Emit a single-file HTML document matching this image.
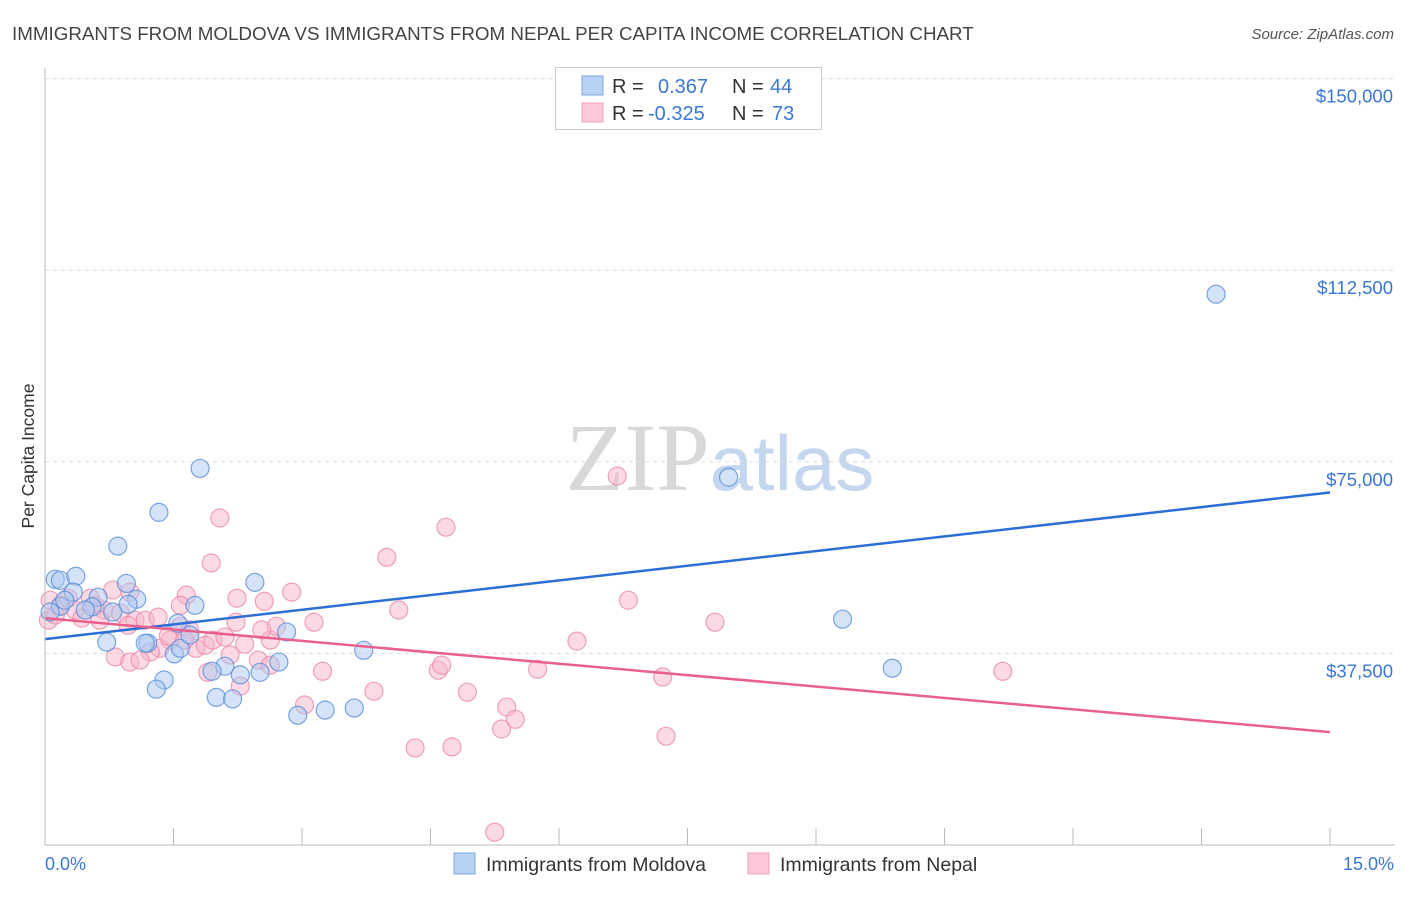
<!DOCTYPE html>
<html><head><meta charset="utf-8"><style>
body{margin:0;background:#fff;font-family:"Liberation Sans",sans-serif}
svg text{font-family:"Liberation Sans",sans-serif}
</style></head><body>
<svg id="c" width="1406" height="892" viewBox="0 0 1406 892">
<text x="12" y="40" font-size="18.8" fill="#444">IMMIGRANTS FROM MOLDOVA VS IMMIGRANTS FROM NEPAL PER CAPITA INCOME CORRELATION CHART</text>
<text x="1394" y="39" font-size="15" fill="#555" font-style="italic" text-anchor="end">Source: ZipAtlas.com</text>
<text x="720" y="490" font-size="96" fill="#ddd" text-anchor="middle" font-family="Liberation Serif"><tspan fill="#d8d8d8" font-family="Liberation Serif">ZIP</tspan><tspan fill="#c5d7ee" font-family="Liberation Sans" font-size="78">atlas</tspan></text>
<text transform="translate(34,456) rotate(-90)" font-size="17.5" fill="#333" text-anchor="middle">Per Capita Income</text>
<g id="grid"></g><g id="ticks"></g><g id="pts"></g><g id="lines"></g>
<line x1="45" y1="68" x2="45" y2="845" stroke="#bbb"/>
<line x1="45" y1="845" x2="1395" y2="845" stroke="#bbb"/>
<text x="45" y="870" font-size="18" fill="#3a78d4">0.0%</text>
<text x="1394" y="870" font-size="18" fill="#3a78d4" text-anchor="end">15.0%</text>
<g>
<rect x="555.5" y="67.5" width="266" height="62" fill="#fff" stroke="#ccc"/>
<rect x="582" y="76" width="21" height="19" fill="#b8d2f4" stroke="#7aa6e0"/>
<rect x="582" y="103" width="21" height="19" fill="#fcc8d8" stroke="#eea0b8"/>
<text x="612" y="93" font-size="20" fill="#333">R = </text><text x="658" y="93" font-size="20" fill="#3a78d4">0.367</text>
<text x="732" y="93" font-size="20" fill="#333">N = </text><text x="770" y="93" font-size="20" fill="#3a78d4">44</text>
<text x="612" y="120" font-size="20" fill="#333">R = </text><text x="648" y="120" font-size="20" fill="#3a78d4">-0.325</text>
<text x="732" y="120" font-size="20" fill="#333">N = </text><text x="772" y="120" font-size="20" fill="#3a78d4">73</text>
</g>
<g>
<rect x="454" y="853" width="21" height="21" fill="#b8d2f4" stroke="#7aa6e0"/>
<text x="486" y="871" font-size="19.5" fill="#333">Immigrants from Moldova</text>
<rect x="748" y="853" width="21" height="21" fill="#fcc8d8" stroke="#eea0b8"/>
<text x="780" y="871" font-size="19.5" fill="#333">Immigrants from Nepal</text>
</g>
</svg>
<script>
const yTicks=[37500,75000,112500,150000];
const yTickLabels=["$37,500","$75,000","$112,500","$150,000"];
const xTicks=[0,1.5,3,4.5,6,7.5,9,10.5,12,13.5,15];
const moldovaX=[1.81,1.33,0.85,0.12,0.18,0.36,0.95,2.45,0.33,1.07,0.62,0.97,1.75,0.55,0.79,0.18,1.55,2.82,2.73,0.72,1.20,1.17,1.51,1.58,2.10,1.95,2.28,2.51,3.72,1.39,1.30,2.00,2.19,2.95,3.27,3.61,7.98,13.67,9.31,9.89,0.23,0.47,0.06,1.69];
const moldovaY=[73.7,65.1,58.5,52.0,51.8,52.6,51.2,51.4,49.5,48.1,48.5,47.1,46.9,46.6,45.6,46.7,43.4,41.7,35.8,39.7,39.5,39.5,37.4,38.5,35.0,34.0,33.3,33.8,38.1,32.3,30.5,28.9,28.6,25.4,26.4,26.8,72.0,107.8,44.2,34.6,47.9,46.0,45.6,41.1];
const nepalX=[6.68,2.04,4.68,1.94,3.99,1.65,2.24,2.56,2.88,6.81,4.13,7.82,6.21,0.79,0.99,0.27,0.53,0.69,0.88,1.05,1.17,1.32,1.58,1.69,1.76,1.87,1.96,2.10,2.23,2.33,2.63,2.70,3.14,1.46,1.34,1.23,0.82,0.99,1.11,1.90,2.28,2.49,2.63,3.24,3.84,4.59,4.63,4.93,5.75,7.21,11.18,5.39,3.03,5.49,5.33,4.32,4.75,7.25,5.25,0.06,0.04,0.12,0.18,0.35,0.43,0.58,0.64,1.44,1.63,2.16,1.58,0.97,2.53];
const nepalY=[72.2,64.0,62.2,55.2,56.3,48.9,48.3,47.7,49.5,47.9,46.0,43.6,39.9,49.9,49.5,48.3,48.3,46.0,45.4,44.0,44.0,44.6,42.8,42.1,38.5,39.1,40.1,40.7,43.6,39.3,40.1,42.8,43.6,40.1,38.5,37.8,36.8,35.8,36.2,33.8,31.1,36.2,35.2,34.0,30.1,34.2,35.2,29.9,34.4,32.9,34.0,27.0,27.4,24.6,22.7,19.0,19.2,21.3,2.5,47.9,44.0,45.0,46.9,46.0,44.4,46.9,44.0,40.9,40.1,37.2,46.9,43.0,42.1];
const moldovaTrend=[40.3,69.0];
const nepalTrend=[44.4,22.1];
const NS="http://www.w3.org/2000/svg";
const sx=v=>45+v/15*1285;
const sy=v=>845-v/37500*191.6;
function mk(t,a,p){const e=document.createElementNS(NS,t);for(const k in a)e.setAttribute(k,a[k]);p.appendChild(e);return e;}
const grid=document.getElementById('grid');
yTicks.forEach((v,i)=>{
 const l=mk('line',{x1:45,x2:1395,y1:sy(v),y2:sy(v),stroke:'#ddd','stroke-dasharray':'4,4'},grid);
 
 
 const t=mk('text',{x:1393,y:sy(v)+24,'font-size':18.5,fill:'#3a78d4','text-anchor':'end'},grid);
 t.textContent=yTickLabels[i];
 
 
});
const tk=document.getElementById('ticks');
xTicks.forEach(v=>{
 const l=mk('line',{x1:sx(v),x2:sx(v),y1:828,y2:845,stroke:'#bbb'},tk);
 
 
});
const pts=document.getElementById('pts');
function series(X,Y,fill,stroke,name){
 X.forEach((x,i)=>{
  const c=mk('circle',{cx:sx(x),cy:sy(Y[i]*1000),r:9,fill:fill,'fill-opacity':0.5,stroke:stroke,'stroke-opacity':0.8,'stroke-width':1.2},pts);
  
  
 });
}
series(nepalX,nepalY,'#f7b5c9','#ea8caa','nepal-point');
series(moldovaX,moldovaY,'#a9c8f0','#5a8fdb','moldova-point');
const ln=document.getElementById('lines');
const b=mk('line',{x1:sx(0),y1:sy(moldovaTrend[0]*1000),x2:sx(15),y2:sy(moldovaTrend[1]*1000),stroke:'#2b6fd6','stroke-width':2.5},ln);


const p=mk('line',{x1:sx(0),y1:sy(nepalTrend[0]*1000),x2:sx(15),y2:sy(nepalTrend[1]*1000),stroke:'#e8608e','stroke-width':2.5},ln);


</script>
</body></html>
